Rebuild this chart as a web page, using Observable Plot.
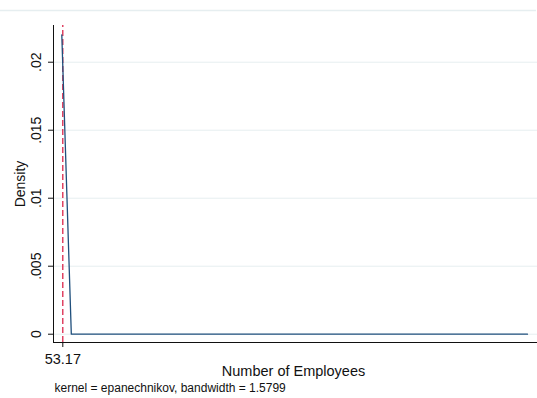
<!DOCTYPE html>
<html>
<head>
<meta charset="utf-8">
<script src="https://cdn.jsdelivr.net/npm/d3@7"></script>
<script src="https://cdn.jsdelivr.net/npm/@observablehq/plot@0.6"></script>
<style>
  html, body { margin: 0; padding: 0; background: #fff; }
  #chart svg { display: block; }
</style>
</head>
<body>
<div id="chart"></div>
<script>
// Kernel density of firm size (Epanechnikov, bandwidth 1.5799)
const employees = [50, 80.2, 1530];
const density = [0.0220, 0, 0];
const meanEmployees = 53.17;

const yTicks = [0, 0.005, 0.01, 0.015, 0.02];
const yTickLabels = ["0", ".005", ".01", ".015", ".02"];
const xTicks = [meanEmployees];
const xTickLabels = ["53.17"];

const xDomain = [23.6, 1561.8];
const yDomain = [-0.00061, 0.0227];

const curve = employees.map((x, i) => ({x, d: density[i]}));
const yTickData = yTicks.map((v, i) => ({v, label: yTickLabels[i]}));
const xTickData = xTicks.map((v, i) => ({v, label: xTickLabels[i]}));

const font = "Liberation Sans, Arial, sans-serif";
const ink = "#111";

const chart = Plot.plot({
  width: 537,
  height: 398,
  marginLeft: 53,
  marginRight: 0,
  marginTop: 25,
  marginBottom: 56,
  style: {fontFamily: font, fontSize: "14px", color: ink, background: "#fff"},
  x: {domain: xDomain},
  y: {domain: yDomain},
  marks: [
    // horizontal grid
    Plot.ruleY(yTicks, {stroke: "#e6eef0", strokeWidth: 1}),
    // tick marks only; labels are drawn as rotated text below
    Plot.axisY({ticks: yTicks, tickFormat: () => "", tickSize: 5, label: null, stroke: ink}),
    Plot.axisX({ticks: xTicks, tickFormat: () => "", tickSize: 5, label: null, stroke: ink}),
    // axis lines
    Plot.ruleX([xDomain[0]], {y1: yDomain[0], y2: yDomain[1], stroke: ink, strokeWidth: 1}),
    Plot.ruleY([yDomain[0]], {x1: xDomain[0], x2: xDomain[1], stroke: ink, strokeWidth: 1.2}),
    // mean reference line
    Plot.ruleX([meanEmployees], {y1: yDomain[0], y2: yDomain[1], stroke: "#d7143d", strokeWidth: 1.2, strokeDasharray: "6,3"}),
    // density curve
    Plot.line(curve, {x: "x", y: "d", stroke: "#1f4f7c", strokeWidth: 1.3}),
    // y tick labels (rotated)
    Plot.text(yTickData, {y: "v", text: "label", frameAnchor: "left", dx: -17, rotate: -90, textAnchor: "middle", lineAnchor: "middle", fill: ink, fontSize: 14}),
    // x tick labels
    Plot.text(xTickData, {x: "v", text: "label", frameAnchor: "bottom", dy: 21, fill: ink, fontSize: 14.5}),
    // axis titles
    Plot.text(["Density"], {frameAnchor: "left", dx: -33, rotate: -90, textAnchor: "middle", lineAnchor: "middle", fill: ink, fontSize: 14}),
    Plot.text(["Number of Employees"], {frameAnchor: "bottom", dx: -2, dy: 33, fill: ink, fontSize: 14.5}),
    // kernel note
    Plot.text(["kernel = epanechnikov, bandwidth = 1.5799"], {frameAnchor: "bottom-left", dx: 1, dy: 49, textAnchor: "start", fill: ink, fontSize: 12})
  ]
});

document.getElementById("chart").appendChild(chart);

// light border line across the top of the graph region
d3.select(chart).insert("line", ":first-child")
  .attr("x1", 0).attr("x2", 536).attr("y1", 10.5).attr("y2", 10.5)
  .attr("stroke", "#e6eef0").attr("stroke-width", 1.5);
</script>
</body>
</html>
